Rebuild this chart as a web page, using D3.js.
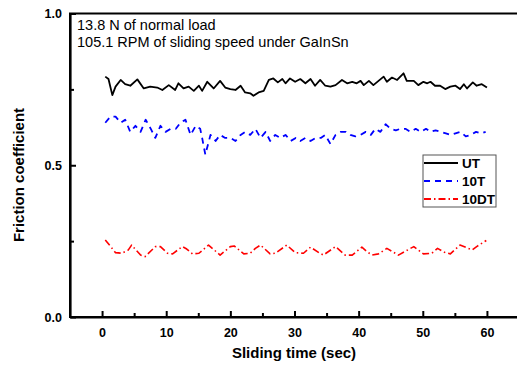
<!DOCTYPE html>
<html>
<head>
<meta charset="utf-8">
<script src="https://cdn.jsdelivr.net/npm/d3@7"></script>
<style>
  html, body { margin: 0; padding: 0; background: #fff; }
  svg { display: block; font-family: "Liberation Sans", Arial, sans-serif; }
</style>
</head>
<body>
<div id="chart"></div>
<script>
// ---- data ----
const utTime = [0.5, 1.0, 1.6, 2.1, 2.9, 3.6, 4.4, 5.5, 6.5, 7.5, 8.6, 9.4, 10.4, 11.4, 11.9, 12.7, 13.5, 14.3, 15.1, 15.6,
  16.4, 17.4, 18.4, 19.2, 20.0, 20.8, 21.6, 22.3, 23.1, 23.6, 24.4, 25.2, 26.0, 26.7, 27.4, 28.1, 28.6, 29.3, 30.1, 30.9,
  31.7, 32.5, 33.2, 34.0, 34.8, 35.6, 36.4, 37.4, 38.2, 39.0, 39.7, 40.3, 40.8, 41.6, 42.3, 43.1, 43.9, 44.4, 45.2, 46.0,
  47.0, 47.5, 48.6, 49.3, 50.1, 50.7, 51.2, 51.9, 52.7, 53.5, 54.3, 55.1, 55.8, 56.4, 56.9, 57.8, 58.4, 59.2, 60.0];
const utValue = [0.792, 0.784, 0.731, 0.759, 0.781, 0.767, 0.762, 0.783, 0.753, 0.759, 0.756, 0.748, 0.764, 0.748, 0.770, 0.753, 0.759, 0.745, 0.762, 0.745,
  0.775, 0.753, 0.778, 0.756, 0.751, 0.748, 0.762, 0.740, 0.737, 0.729, 0.740, 0.745, 0.781, 0.786, 0.773, 0.784, 0.770, 0.786, 0.775, 0.784,
  0.770, 0.784, 0.762, 0.781, 0.762, 0.759, 0.764, 0.781, 0.770, 0.775, 0.770, 0.778, 0.764, 0.778, 0.764, 0.778, 0.792, 0.775, 0.789, 0.781,
  0.803, 0.778, 0.778, 0.764, 0.775, 0.770, 0.775, 0.762, 0.762, 0.751, 0.759, 0.762, 0.751, 0.767, 0.753, 0.773, 0.762, 0.767, 0.756];

const t10Time = [0.5, 1.3, 2.1, 2.9, 3.6, 4.4, 5.2, 6.0, 6.8, 7.6, 8.3, 9.1, 9.9, 10.7, 11.5, 12.2, 13.0, 13.8, 14.6, 15.3,
  15.6, 16.1, 16.9, 17.7, 18.4, 19.2, 20.0, 20.8, 21.6, 22.3, 23.1, 23.9, 24.7, 25.5, 26.2, 27.0, 27.8, 28.6, 29.4, 30.2,
  30.9, 31.7, 32.5, 33.3, 34.1, 34.8, 35.6, 36.4, 37.2, 38.0, 38.7, 39.5, 40.3, 41.1, 41.9, 42.6, 43.4, 44.2, 45.0, 45.8,
  46.5, 47.3, 48.1, 48.9, 49.7, 50.5, 51.2, 52.0, 52.8, 53.6, 54.4, 55.1, 55.9, 56.7, 57.5, 58.3, 59.1, 59.8];
const t10Value = [0.64, 0.66, 0.66, 0.64, 0.65, 0.61, 0.63, 0.61, 0.65, 0.62, 0.59, 0.63, 0.61, 0.62, 0.62, 0.64, 0.65, 0.60, 0.63, 0.62,
  0.59, 0.535, 0.60, 0.58, 0.60, 0.59, 0.59, 0.58, 0.60, 0.61, 0.60, 0.62, 0.59, 0.61, 0.58, 0.60, 0.59, 0.60, 0.58, 0.59,
  0.58, 0.59, 0.58, 0.59, 0.59, 0.60, 0.57, 0.60, 0.61, 0.61, 0.60, 0.595, 0.60, 0.61, 0.60, 0.62, 0.61, 0.635, 0.62, 0.615,
  0.62, 0.62, 0.61, 0.62, 0.61, 0.62, 0.61, 0.615, 0.61, 0.605, 0.60, 0.605, 0.61, 0.595, 0.60, 0.61, 0.605, 0.61];

const dtTime = [0.5, 2.1, 3.1, 4.1, 4.6, 6.0, 6.7, 8.3, 9.1, 10.2, 11.0, 12.5, 13.2, 14.1, 15.1, 16.6, 18.4, 20.0, 20.6, 22.1,
  23.1, 23.9, 24.7, 26.2, 27.0, 28.8, 30.1, 31.4, 32.5, 33.8, 34.5, 36.4, 37.9, 39.0, 40.5, 41.3, 42.1, 43.1, 44.4, 46.2,
  48.6, 50.1, 51.4, 52.3, 53.5, 54.3, 55.8, 57.1, 57.7, 58.4, 59.9];
const dtValue = [0.254, 0.212, 0.210, 0.221, 0.237, 0.204, 0.199, 0.232, 0.232, 0.210, 0.208, 0.232, 0.224, 0.208, 0.210, 0.237, 0.204, 0.232, 0.234, 0.208,
  0.210, 0.226, 0.237, 0.208, 0.210, 0.237, 0.212, 0.210, 0.230, 0.212, 0.204, 0.232, 0.204, 0.204, 0.230, 0.215, 0.204, 0.208, 0.226, 0.204,
  0.232, 0.208, 0.210, 0.226, 0.212, 0.208, 0.237, 0.226, 0.221, 0.232, 0.252];

const xTicks = [0, 10, 20, 30, 40, 50, 60];
const xMinor = [5, 15, 25, 35, 45, 55];
const yTicks = [0.0, 0.5, 1.0];
const yMinor = [0.25, 0.75];
const notes = ['13.8 N of normal load', '105.1 RPM of sliding speed under GaInSn'];

const series = [
  { name: 'UT', time: utTime, value: utValue, color: '#000', width: 1.8, dash: null },
  { name: '10T', time: t10Time, value: t10Value, color: '#0000ff', width: 1.8, dash: '6,5' },
  { name: '10DT', time: dtTime, value: dtValue, color: '#ff0000', width: 1.6, dash: '7,3,1.5,3' }
];

// ---- layout ----
const W = 517, H = 366;
const svg = d3.select('#chart').append('svg').attr('width', W).attr('height', H);

const x = d3.scaleLinear().domain([-5, 65]).range([70, 519]);
const y = d3.scaleLinear().domain([0, 1]).range([317, 13.5]);

// frame (top + right edge, mostly off-screen)
svg.append('rect')
  .attr('x', x(-5)).attr('y', y(1))
  .attr('width', x(65) - x(-5)).attr('height', y(0) - y(1))
  .attr('fill', 'none').attr('stroke', '#000').attr('stroke-width', 2);

// x axis, ticks pointing inward
svg.append('g').attr('transform', `translate(0,${y(0)})`)
  .call(d3.axisBottom(x).tickValues(xTicks).tickSizeInner(-6).tickSizeOuter(0).tickPadding(11).tickFormat(d3.format('d')));
svg.append('g').attr('transform', `translate(0,${y(0)})`)
  .call(d3.axisBottom(x).tickValues(xMinor).tickSizeInner(-4).tickSizeOuter(0).tickFormat(''))
  .select('.domain').remove();

svg.append('g').attr('transform', `translate(${x(-5)},0)`)
  .call(d3.axisLeft(y).tickValues(yTicks).tickSizeInner(-6).tickSizeOuter(0).tickPadding(8).tickFormat(d3.format('.1f')));
svg.append('g').attr('transform', `translate(${x(-5)},0)`)
  .call(d3.axisLeft(y).tickValues(yMinor).tickSizeInner(-4).tickSizeOuter(0).tickFormat(''))
  .select('.domain').remove();

svg.selectAll('.domain').attr('stroke-width', 2.2);
svg.selectAll('.tick line').attr('stroke-width', 2);
svg.selectAll('.tick text')
  .style('font-family', '"Liberation Sans", Arial, sans-serif')
  .style('font-size', '12.5px')
  .style('font-weight', 'bold')
  .attr('fill', '#000');

// axis titles
svg.append('text')
  .attr('x', 294).attr('y', 358)
  .attr('text-anchor', 'middle')
  .style('font-size', '15px').style('font-weight', 'bold')
  .text('Sliding time (sec)');

svg.append('text')
  .attr('transform', `translate(24,${175}) rotate(-90)`)
  .attr('text-anchor', 'middle')
  .style('font-size', '15px').style('font-weight', 'bold')
  .text('Friction coefficient');

// series lines
const line = d3.line().x(d => x(d[0])).y(d => y(d[1]));
series.forEach(s => {
  const pts = s.time.map((t, i) => [t, s.value[i]]);
  svg.append('path')
    .datum(pts)
    .attr('d', line)
    .attr('fill', 'none')
    .attr('stroke', s.color)
    .attr('stroke-width', s.width)
    .attr('stroke-linejoin', 'round')
    .attr('stroke-dasharray', s.dash);
});

// annotations
svg.selectAll('.note')
  .data(notes).enter()
  .append('text')
  .attr('class', 'note')
  .attr('x', 77)
  .attr('y', (d, i) => 30 + i * 17)
  .style('font-size', '14.5px')
  .text(d => d);

// legend
const lg = svg.append('g').attr('transform', 'translate(423,155)');
lg.append('rect')
  .attr('width', 73).attr('height', 52)
  .attr('fill', '#fff').attr('stroke', '#555').attr('stroke-width', 1);
series.forEach((s, i) => {
  const cy = 8 + i * 18;
  lg.append('line')
    .attr('x1', 1).attr('x2', 35).attr('y1', cy).attr('y2', cy)
    .attr('stroke', s.color).attr('stroke-width', s.width + 0.4)
    .attr('stroke-dasharray', s.dash);
  lg.append('text')
    .attr('x', 39).attr('y', cy + 4.5)
    .style('font-size', '13.5px').style('font-weight', 'bold')
    .text(s.name);
});
</script>
</body>
</html>
